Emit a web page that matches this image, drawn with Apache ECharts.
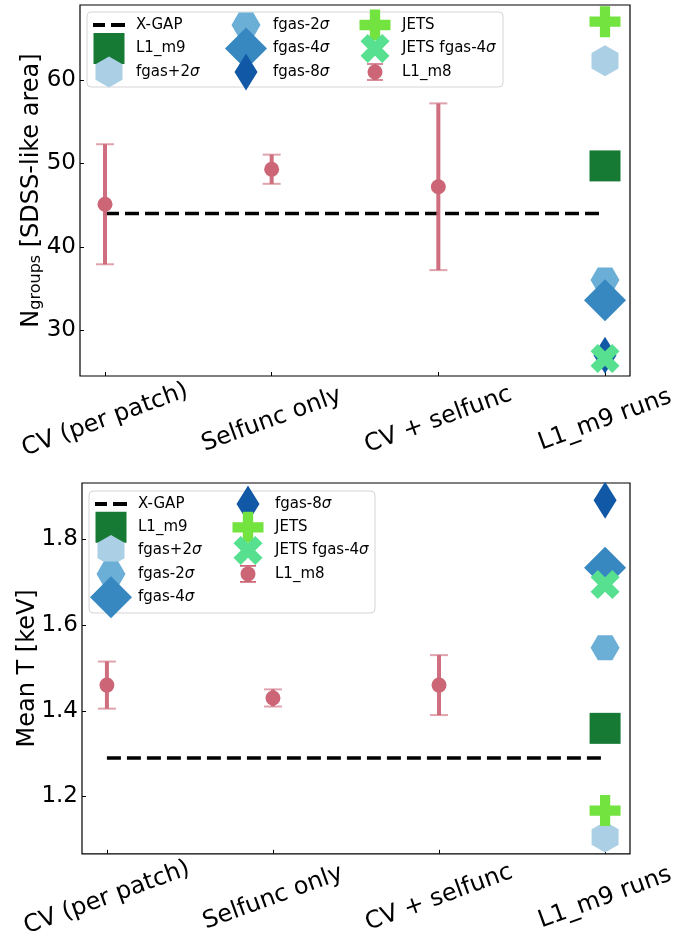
<!DOCTYPE html>
<html>
<head>
<meta charset="utf-8">
<script src="https://cdn.jsdelivr.net/npm/echarts@6/dist/echarts.min.js"></script>
<style>
  html, body { margin: 0; padding: 0; background: #fff; }
  #chart { width: 697px; height: 940px; }
</style>
</head>
<body>
<div id="chart"></div>
<script>
// ---- data ----
const categories = ['CV (per patch)', 'Selfunc only', 'CV + selfunc', 'L1_m9 runs'];
const categoryPos = [0, 1, 2, 3];

// upper panel: number of groups
const nGroupsTicks = [30, 40, 50, 60];
const nGroupsXGap = 44;
const nGroupsL1m8 = [45.1, 49.3, 47.2];
const nGroupsL1m8Err = [7.2, 1.75, 10.0];

// lower panel: mean temperature
const meanTTicks = [1.2, 1.4, 1.6, 1.8];
const meanTXGap = 1.29;
const meanTL1m8 = [1.46, 1.43, 1.46];
const meanTL1m8Err = [0.055, 0.02, 0.07];

// simulation runs, all placed in the last column
const runNames = ['L1_m9', 'fgas+2σ', 'fgas-2σ', 'fgas-4σ', 'fgas-8σ', 'JETS', 'JETS fgas-4σ'];
const nGroupsRuns = [49.7, 62.3, 36.0, 33.6, 27.0, 67.0, 26.6];
const meanTRuns = [1.359, 1.105, 1.547, 1.734, 1.892, 1.167, 1.695];

// ---- marker styling ----
const runShapes = ['square', 'hexPointy', 'hexFlat', 'diamond', 'thinDiamond', 'plus', 'cross'];
const runSizes = [[31, 31], [27, 31], [29, 25], [42, 42], [23, 37], [31, 31], [29, 29]];
const runColors = ['#167a35', '#abd0e6', '#6baed6', '#3787c0', '#1159a6', '#72e33f', '#56e08f'];
const pink = '#cc6677';
const FONT = 'DejaVu Sans';

const t = 1 / 3;
const SHAPES = {
  square: [[-1, -1], [1, -1], [1, 1], [-1, 1]],
  hexPointy: [[0, -1], [1, -0.5], [1, 0.5], [0, 1], [-1, 0.5], [-1, -0.5]],
  hexFlat: [[-1, 0], [-0.5, -1], [0.5, -1], [1, 0], [0.5, 1], [-0.5, 1]],
  diamond: [[0, -1], [1, 0], [0, 1], [-1, 0]],
  thinDiamond: [[0, -1], [1, 0], [0, 1], [-1, 0]],
  plus: [[-t, -1], [t, -1], [t, -t], [1, -t], [1, t], [t, t], [t, 1], [-t, 1], [-t, t], [-1, t], [-1, -t], [-t, -t]],
  cross: [[0.5, -1], [1, -0.5], [0.5, 0], [1, 0.5], [0.5, 1], [0, 0.5], [-0.5, 1], [-1, 0.5], [-0.5, 0], [-1, -0.5], [-0.5, -1], [0, -0.5]]
};

function outline(pts, w, h, cx, cy) {
  return pts.map((p, i) => (i ? 'L' : 'M') + (cx + p[0] * w / 2).toFixed(2) + ',' + (cy + p[1] * h / 2).toFixed(2)).join('') + 'Z';
}
// symbol for the plot area (stretched by symbolSize)
function symbolPath(shape) {
  return 'path://' + outline(SHAPES[shape], 2, 2, 1, 1);
}
// legend icons live in a fixed 44x44 box so markers keep their plotted size
const BOX = 'M0,0L0,0ZM44,44L44,44Z';
function legendIcon(shape, size) {
  return 'path://' + BOX + outline(SHAPES[shape], size[0], size[1], 22, 22);
}
const xgapIcon = 'path://' + BOX + 'M6,20H18V24H6ZM24,20H38V24H24Z';
const l1m8Icon = 'path://' + BOX +
  'M14.5,22A7.5,7.5 0 1,1 29.5,22A7.5,7.5 0 1,1 14.5,22Z' +
  'M20.5,14H23.5V30H20.5Z' +
  'M14,13.2H30V14.8H14Z' +
  'M14,29.2H30V30.8H14Z';

function iconFor(name) {
  if (name === 'X-GAP') return xgapIcon;
  if (name === 'L1_m8') return l1m8Icon;
  const i = runNames.indexOf(name);
  return legendIcon(runShapes[i], runSizes[i]);
}

// ---- error bars drawn through the axis scales ----
function errorBarItem(params, api) {
  const x = api.value(0), y = api.value(1), e = api.value(2);
  const hi = api.coord([x, y + e]);
  const lo = api.coord([x, y - e]);
  const half = 9;
  const capStyle = { stroke: 'rgba(204,102,119,0.6)', lineWidth: 2 };
  return {
    type: 'group',
    children: [
      { type: 'line', shape: { x1: hi[0], y1: hi[1], x2: lo[0], y2: lo[1] }, style: { stroke: 'rgba(204,102,119,0.95)', lineWidth: 4 } },
      { type: 'line', shape: { x1: hi[0] - half, y1: hi[1], x2: hi[0] + half, y2: hi[1] }, style: capStyle },
      { type: 'line', shape: { x1: lo[0] - half, y1: lo[1], x2: lo[0] + half, y2: lo[1] }, style: capStyle }
    ]
  };
}

function panelSeries(p, xgap, l1m8, l1m8Err, runs) {
  const list = [];
  list.push({
    type: 'line', name: 'X-GAP', xAxisIndex: p, yAxisIndex: p,
    data: [[categoryPos[0], xgap], [categoryPos[3], xgap]],
    symbol: 'none', color: '#000',
    lineStyle: { color: '#000', width: 3.5, type: [14, 6] },
    z: 2, silent: true
  });
  runNames.forEach((name, i) => {
    list.push({
      type: 'scatter', name, xAxisIndex: p, yAxisIndex: p,
      data: [[categoryPos[3], runs[i]]],
      symbol: symbolPath(runShapes[i]), symbolSize: runSizes[i],
      itemStyle: { color: runColors[i], opacity: 1 },
      z: 3, silent: true
    });
  });
  list.push({
    type: 'custom', name: 'L1_m8', xAxisIndex: p, yAxisIndex: p,
    data: l1m8.map((v, i) => [categoryPos[i], v, l1m8Err[i]]),
    encode: { x: 0, y: 1 },
    renderItem: errorBarItem,
    itemStyle: { color: pink },
    z: 4, silent: true
  });
  list.push({
    type: 'scatter', name: 'L1_m8', xAxisIndex: p, yAxisIndex: p,
    data: l1m8.map((v, i) => [categoryPos[i], v]),
    symbol: 'circle', symbolSize: 15,
    itemStyle: { color: pink, opacity: 1 },
    z: 5, silent: true
  });
  return list;
}

function xAxisFor(gi) {
  return {
    type: 'value', gridIndex: gi, min: -0.15, max: 3.15,
    axisLine: { show: false, onZero: false },
    splitLine: { show: false },
    axisTick: { show: true, inside: true, length: 4, customValues: categoryPos, lineStyle: { color: '#000', width: 1 } },
    axisLabel: {
      customValues: categoryPos,
      formatter: v => categories[Math.round(v)],
      rotate: 20, align: 'center', verticalAlign: 'middle', margin: 44,
      fontSize: 24, fontFamily: FONT, color: '#000'
    }
  };
}

function yAxisFor(gi, min, max, ticks, fmt, name, nameGap, rich) {
  return {
    type: 'value', gridIndex: gi, min, max,
    axisLine: { show: false, onZero: false },
    splitLine: { show: false },
    axisTick: { show: true, inside: true, length: 4, customValues: ticks, lineStyle: { color: '#000', width: 1 } },
    axisLabel: { customValues: ticks, formatter: fmt, margin: 4, fontSize: 23, fontFamily: FONT, color: '#000' },
    name, nameLocation: 'middle', nameRotate: 90, nameGap, nameMoveOverlap: false,
    nameTextStyle: { fontSize: 24, fontFamily: FONT, color: '#000', rich }
  };
}

function legendBlock(names, left, top, gap) {
  return {
    data: names.map(n => ({ name: n, icon: iconFor(n) })),
    orient: 'vertical', left, top, padding: 0,
    itemWidth: 44, itemHeight: 44, itemGap: gap,
    selectedMode: false, z: 6,
    formatter: n => n.replace('σ', '{i|σ}'),
    textStyle: {
      fontSize: 15, fontFamily: FONT, color: '#000',
      rich: { i: { fontSize: 15, fontFamily: FONT, fontStyle: 'italic', color: '#000' } }
    }
  };
}

const chart = echarts.init(document.getElementById('chart'), null, { renderer: 'canvas' });
const option = {
  backgroundColor: '#fff',
  animation: false,
  grid: [
    { left: 80, top: 5, width: 550, height: 371, show: true, borderColor: '#000', borderWidth: 1.2, backgroundColor: 'transparent' },
    { left: 82, top: 483, width: 548, height: 372, show: true, borderColor: '#000', borderWidth: 1.2, backgroundColor: 'transparent' }
  ],
  xAxis: [xAxisFor(0), xAxisFor(1)],
  yAxis: [
    yAxisFor(0, 24.5, 69, nGroupsTicks, v => String(v), '{n|N}{s|groups}{n| [SDSS-like area]}', 36, {
      n: { fontSize: 24, fontFamily: FONT, color: '#000' },
      s: { fontSize: 16, fontFamily: FONT, color: '#000', lineHeight: 13, verticalAlign: 'bottom' }
    }),
    yAxisFor(1, 1.066, 1.932, meanTTicks, v => v.toFixed(1), 'Mean T [keV]', 42)
  ],
  graphic: [
    { type: 'rect', shape: { x: 87, y: 12, width: 416, height: 75, r: 4 }, style: { fill: 'rgba(255,255,255,0.8)', stroke: '#d5d5d5', lineWidth: 1 }, z: 5, silent: true },
    { type: 'rect', shape: { x: 89, y: 491, width: 286, height: 122, r: 4 }, style: { fill: 'rgba(255,255,255,0.8)', stroke: '#d5d5d5', lineWidth: 1 }, z: 5, silent: true }
  ],
  legend: [
    legendBlock(['X-GAP', 'L1_m9', 'fgas+2σ'], 87, 3, -20.5),
    legendBlock(['fgas-2σ', 'fgas-4σ', 'fgas-8σ'], 224, 3, -20.5),
    legendBlock(['JETS', 'JETS fgas-4σ', 'L1_m8'], 353, 3, -20.5),
    legendBlock(['X-GAP', 'L1_m9', 'fgas+2σ', 'fgas-2σ', 'fgas-4σ'], 89, 482, -20.7),
    legendBlock(['fgas-8σ', 'JETS', 'JETS fgas-4σ', 'L1_m8'], 226, 482, -20.7)
  ],
  series: [
    ...panelSeries(0, nGroupsXGap, nGroupsL1m8, nGroupsL1m8Err, nGroupsRuns),
    ...panelSeries(1, meanTXGap, meanTL1m8, meanTL1m8Err, meanTRuns)
  ]
};
chart.setOption(option);
</script>
</body>
</html>
